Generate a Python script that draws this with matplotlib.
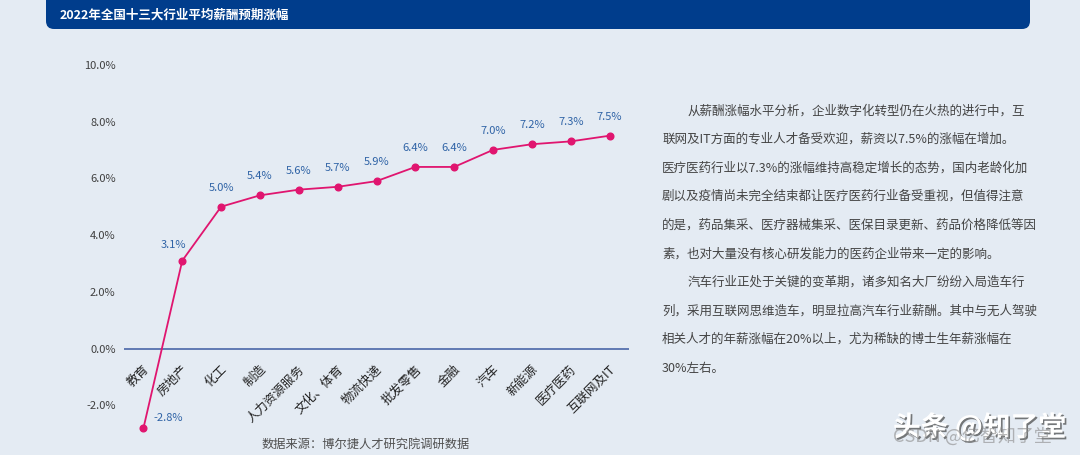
import matplotlib.pyplot as plt
import matplotlib.patheffects as pe
from matplotlib.patches import FancyBboxPatch

plt.rcParams['font.family'] = ['Noto Sans CJK SC', 'DejaVu Sans']

# Data
industries = ['教育', '房地产', '化工', '制造', '人力资源服务', '文化、体育', '物流快递',
              '批发零售', '金融', '汽车', '新能源', '医疗医药', '互联网及IT']
growth = [-2.8, 3.1, 5.0, 5.4, 5.6, 5.7, 5.9, 6.4, 6.4, 7.0, 7.2, 7.3, 7.5]
y_ticks = [-2, 0, 2, 4, 6, 8, 10]

title = '2022年全国十三大行业平均薪酬预期涨幅'
source = '数据来源：博尔捷人才研究院调研数据'
para_lines = [
    '从薪酬涨幅水平分析，企业数字化转型仍在火热的进行中，互',
    '联网及IT方面的专业人才备受欢迎，薪资以7.5%的涨幅在增加。',
    '医疗医药行业以7.3%的涨幅维持高稳定增长的态势，国内老龄化加',
    '剧以及疫情尚未完全结束都让医疗医药行业备受重视，但值得注意',
    '的是，药品集采、医疗器械集采、医保目录更新、药品价格降低等因',
    '素，也对大量没有核心研发能力的医药企业带来一定的影响。',
    '汽车行业正处于关键的变革期，诸多知名大厂纷纷入局造车行',
    '列，采用互联网思维造车，明显拉高汽车行业薪酬。其中与无人驾驶',
    '相关人才的年薪涨幅在20%以上，尤为稀缺的博士生年薪涨幅在',
    '30%左右。',
]
indented = [0, 6]

bg = '#e4ebf3'
line_color = '#e0156f'
label_color = '#2f63a6'

fig = plt.figure(figsize=(10.8, 4.55), dpi=100, facecolor=bg)

# Decoration layer in pixel coordinates
deco = fig.add_axes([0, 0, 1, 1], zorder=0)
deco.set_xlim(0, 1080)
deco.set_ylim(455, 0)
deco.axis('off')
deco.add_patch(FancyBboxPatch((46, -10), 984, 39, boxstyle='round,pad=0,rounding_size=8',
                              facecolor='#003d8c', edgecolor='none'))
deco.text(60, 15, title, color='white', fontsize=9, fontweight='bold', va='center', ha='left')

for k, line in enumerate(para_lines):
    x0 = 688 if k in indented else 662
    deco.text(x0, 110.7 + 28.6 * k, line, fontsize=9.0, color='#444444', va='center', ha='left')

deco.text(366, 444, source, fontsize=8.8, color='#505050', ha='center', va='center')

# Watermarks (they overlap in the source image as well)
deco.text(893, 427, '头条 @知了堂', fontsize=20, fontweight='bold', color='white', ha='left', va='center',
          path_effects=[pe.withSimplePatchShadow(offset=(1.2, -1.2), shadow_rgbFace='#444444', alpha=0.7)])
deco.text(893, 436, 'CSDN @亿智知了堂', fontsize=13, color='#8a8a8a', alpha=0.6, ha='left', va='center')

# Chart
ax = fig.add_axes([124 / 1080, 0.0402, 505 / 1080, 0.8363], zorder=1)
ax.set_facecolor('none')
x = list(range(len(industries)))
ax.axhline(0, color='#4a66a8', lw=1.2, zorder=1)
ax.plot(x, growth, color=line_color, lw=1.3, marker='o', ms=4.8, zorder=3)

for i, v in enumerate(growth):
    if i == 0:
        ax.annotate(f'{v:.1f}%', (i, v), xytext=(10, 10), textcoords='offset pixels',
                    ha='left', va='center', fontsize=8, color=label_color)
    elif i == 1:
        ax.annotate(f'{v:.1f}%', (i, v), xytext=(-9, 16), textcoords='offset pixels',
                    ha='center', va='center', fontsize=8, color=label_color)
    else:
        ax.annotate(f'{v:.1f}%', (i, v), xytext=(0, 19), textcoords='offset pixels',
                    ha='center', va='center', fontsize=8, color=label_color)

# Category labels hanging under the zero line
for i, name in enumerate(industries):
    ax.annotate(name, (i, 0), xytext=(-1, -14), textcoords='offset pixels',
                rotation=45, rotation_mode='anchor', ha='right', va='top',
                fontsize=9, color='#222222')

ax.set_xlim(-0.5, 12.5)
ax.set_ylim(-3.1, 10.3)
ax.set_xticks([])
ax.set_yticks(y_ticks)
ax.set_yticklabels([f'{t:.1f}%' for t in y_ticks], fontsize=8, color='#404040')
ax.tick_params(axis='y', length=0, pad=6)
for s in ax.spines.values():
    s.set_visible(False)

fig.savefig('out.png', dpi=100, facecolor=bg)
